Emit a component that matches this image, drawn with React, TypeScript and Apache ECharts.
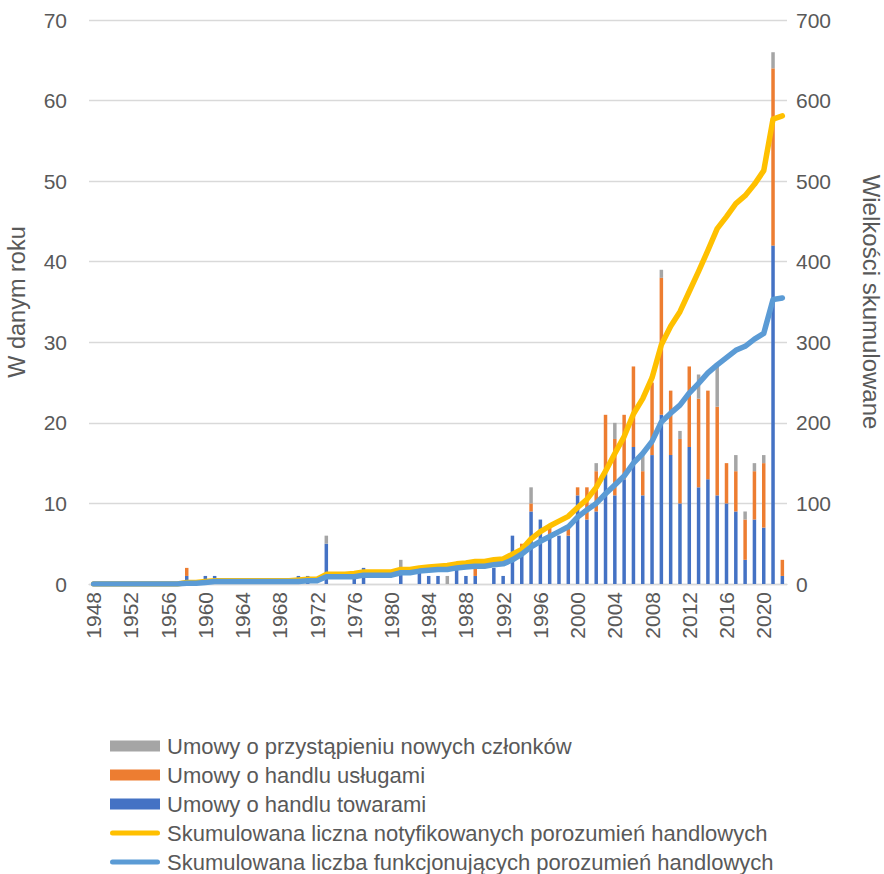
import React, { useEffect, useRef } from "react";
import * as echarts from "echarts";

const years: string[] = Array.from({ length: 75 }, (_, i) => String(1948 + i));

// Umowy o handlu towarami
const goods = [
  0, 0, 0, 0, 0, 0, 0, 0, 0, 0,
  1, 0, 1, 1, 0, 0, 0, 0, 0, 0,
  0, 0, 1, 1, 0, 5, 0, 0, 1, 2,
  0, 0, 0, 2, 0, 2, 1, 1, 0, 2,
  1, 1, 0, 2, 1, 6, 4, 9, 8, 6,
  6, 6, 11, 8, 9, 14, 11, 13, 17, 11,
  16, 21, 16, 10, 17, 12, 13, 11, 10, 9,
  3, 8, 7, 42, 1,
];

// Umowy o handlu usługami
const services = [
  0, 0, 0, 0, 0, 0, 0, 0, 0, 0,
  1, 0, 0, 0, 0, 0, 0, 0, 0, 0,
  0, 0, 0, 0, 0, 0, 0, 0, 0, 0,
  0, 0, 0, 0, 0, 0, 0, 0, 0, 0,
  0, 1, 0, 0, 0, 0, 1, 1, 0, 1,
  0, 1, 1, 4, 5, 7, 7, 8, 10, 3,
  9, 17, 8, 8, 10, 11, 11, 11, 5, 5,
  5, 6, 8, 22, 2,
];

// Umowy o przystąpieniu nowych członków
const accession = [
  0, 0, 0, 0, 0, 0, 0, 0, 0, 0,
  0, 0, 0, 0, 0, 0, 0, 0, 0, 0,
  0, 0, 0, 0, 0, 1, 0, 0, 0, 0,
  0, 0, 0, 1, 0, 0, 0, 0, 1, 0,
  0, 0, 0, 0, 0, 0, 0, 2, 0, 0,
  0, 0, 0, 0, 1, 0, 2, 0, 0, 2,
  0, 1, 0, 1, 0, 3, 0, 5, 0, 2,
  1, 1, 1, 2, 0,
];

// Skumulowana liczna notyfikowanych porozumień handlowych
const notified = [
  0, 0, 0, 0, 0, 0, 0, 0, 0, 0,
  2, 2, 3, 4, 4, 4, 4, 4, 4, 4,
  4, 4, 5, 6, 6, 12, 12, 12, 13, 15,
  15, 15, 15, 18, 18, 20, 21, 22, 23, 25,
  26, 28, 28, 30, 31, 37, 43, 56, 65, 72,
  78, 84, 95, 105, 120, 140, 162, 183, 211, 230,
  256, 297, 320, 338, 363, 388, 414, 441, 456, 472,
  482, 496, 513, 577, 581,
];

// Skumulowana liczba funkcjonujących porozumień handlowych
const inForce = [
  0, 0, 0, 0, 0, 0, 0, 0, 0, 0,
  1, 1, 2, 3, 3, 3, 3, 3, 3, 3,
  3, 3, 3, 4, 4, 9, 9, 9, 9, 11,
  11, 11, 11, 14, 14, 16, 17, 18, 18, 20,
  21, 22, 22, 24, 25, 30, 37, 46, 53, 59,
  65, 71, 83, 92, 100, 112, 123, 134, 150, 162,
  177, 201, 212, 222, 237, 249, 262, 272, 281, 290,
  295, 304, 311, 353, 355,
];

const leftTicks = { min: 0, max: 70, interval: 10 };
const rightTicks = { min: 0, max: 700, interval: 100 };

const names = {
  accession: "Umowy o przystąpieniu nowych członków",
  services: "Umowy o handlu usługami",
  goods: "Umowy o handlu towarami",
  notified: "Skumulowana liczna notyfikowanych porozumień handlowych",
  inForce: "Skumulowana liczba funkcjonujących porozumień handlowych",
};

const FONT = "Liberation Sans";
const TXT = "#595959";
const LINE_ICON = "path://M2.5,0H47.5A2.5,2.5 0 0 1 47.5,5H2.5A2.5,2.5 0 0 1 2.5,0Z";

export default function App() {
  const ref = useRef<HTMLDivElement>(null);
  useEffect(() => {
    const chart = echarts.init(ref.current!, null, { renderer: "svg" });
    chart.setOption({
      animation: false,
      textStyle: { fontFamily: FONT },
      grid: {
        left: 89,
        right: 97,
        top: 20,
        bottom: 290,
        containLabel: false,
        outerBoundsMode: "none",
      },
      legend: {
        orient: "vertical",
        left: 110,
        top: 735,
        height: 150,
        padding: 0,
        itemWidth: 50,
        itemHeight: 11,
        itemGap: 7,
        symbolKeepAspect: true,
        textStyle: {
          color: TXT,
          fontSize: 22,
          lineHeight: 22,
          fontFamily: FONT,
          padding: [0, 0, 0, 2],
        },
        data: [
          { name: names.accession, icon: "rect" },
          { name: names.services, icon: "rect" },
          { name: names.goods, icon: "rect" },
          { name: names.notified, icon: LINE_ICON },
          { name: names.inForce, icon: LINE_ICON },
        ],
      },
      xAxis: {
        type: "category",
        data: years,
        boundaryGap: true,
        axisLine: { lineStyle: { color: "#D9D9D9", width: 1.3 } },
        axisTick: { show: false },
        axisLabel: {
          interval: 3,
          rotate: 90,
          color: TXT,
          fontSize: 21,
          fontFamily: FONT,
          margin: 8,
        },
      },
      yAxis: [
        {
          type: "value",
          ...leftTicks,
          name: "W danym roku",
          nameLocation: "middle",
          nameGap: 60,
          nameTextStyle: { color: TXT, fontSize: 23.5, fontFamily: FONT },
          axisLabel: { color: TXT, fontSize: 21, fontFamily: FONT, margin: 22 },
          axisLine: { show: false },
          axisTick: { show: false },
          splitLine: { lineStyle: { color: "#D9D9D9", width: 1.3 } },
        },
        {
          type: "value",
          ...rightTicks,
          position: "right",
          name: "Wielkości skumulowane",
          nameLocation: "middle",
          nameGap: 72,
          nameRotate: -90,
          nameTextStyle: { color: TXT, fontSize: 24, fontFamily: FONT },
          axisLabel: { color: TXT, fontSize: 21, fontFamily: FONT, margin: 9 },
          axisLine: { show: false },
          axisTick: { show: false },
          splitLine: { show: false },
        },
      ],
      series: [
        {
          name: names.goods,
          type: "bar",
          stack: "s",
          barWidth: 3.5,
          data: goods,
          itemStyle: { color: "#4472C4" },
        },
        {
          name: names.services,
          type: "bar",
          stack: "s",
          barWidth: 3.5,
          data: services,
          itemStyle: { color: "#ED7D31" },
        },
        {
          name: names.accession,
          type: "bar",
          stack: "s",
          barWidth: 3.5,
          data: accession,
          itemStyle: { color: "#A5A5A5" },
        },
        {
          name: names.notified,
          type: "line",
          yAxisIndex: 1,
          data: notified,
          symbol: "none",
          z: 5,
          lineStyle: { color: "#FFC000", width: 5.5, cap: "round", join: "round" },
          itemStyle: { color: "#FFC000" },
        },
        {
          name: names.inForce,
          type: "line",
          yAxisIndex: 1,
          data: inForce,
          symbol: "none",
          z: 6,
          lineStyle: { color: "#5B9BD5", width: 5.5, cap: "round", join: "round" },
          itemStyle: { color: "#5B9BD5" },
        },
      ],
    });
    return () => chart.dispose();
  }, []);
  return (
    <div
      ref={ref}
      style={{ position: "fixed", left: 0, top: 0, width: 884, height: 874, background: "#fff" }}
    />
  );
}
